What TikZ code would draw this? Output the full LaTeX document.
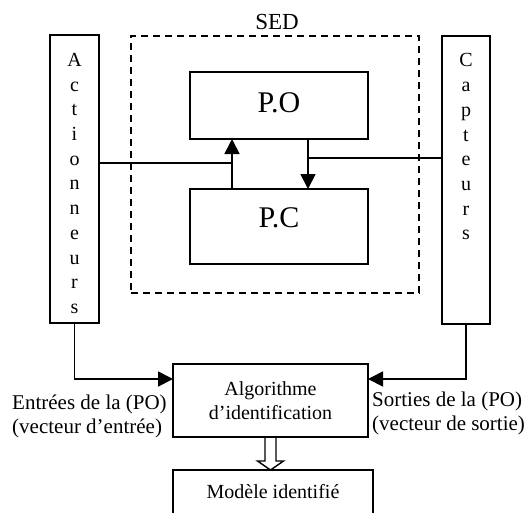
\documentclass[tikz,border=0pt]{standalone}
\usepackage{fontspec}
\setmainfont{Liberation Serif}
\usetikzlibrary{arrows.meta,calc}
\begin{document}
\begin{tikzpicture}[x=1pt,y=-1pt,
  box/.style={draw, line width=1.8pt, inner sep=0pt, outer sep=0pt},
  vtext/.style={font=\fontsize{20}{24.7}\selectfont, align=center, inner sep=0pt},
  body/.style={font=\fontsize{20}{24}\selectfont, align=center},
  big/.style={font=\fontsize{30}{36}\selectfont, inner sep=0pt},
  side/.style={font=\fontsize{21}{24}\selectfont, align=left, anchor=west, inner sep=0pt},
  wire/.style={line width=1.8pt},
  arr/.style={line width=1.8pt, -{Triangle[length=15pt,width=15pt]}},
  hollow/.style={line width=1.4pt, line join=miter}]
\useasboundingbox (0,0) rectangle (526,512);
\clip (0,0) rectangle (526,512);

% actuators and sensors columns
\node[box, minimum width=49, minimum height=288] (act) at (74.5,179) {};
\node[vtext, anchor=north] (acttxt) at ($(act.north)+(0,18)$) {A\\c\\t\\i\\o\\n\\n\\e\\u\\r\\s};
\node[box, minimum width=48, minimum height=288] (capt) at (466,180) {};
\node[vtext, anchor=north] (capttxt) at ($(capt.north)+(0,17.5)$) {C\\a\\p\\t\\e\\u\\r\\s};

% discrete event system
\node[draw, line width=1.5pt, dash pattern=on 7pt off 5pt, minimum width=288, minimum height=257, inner sep=0pt] (sed) at (275,164.5) {};
\node[font=\fontsize{23}{27}\selectfont, inner sep=0pt, anchor=base] (sedlbl) at (277,29) {SED};

\node[box, minimum width=178, minimum height=67] (po) at (279,105.5) {};
\node[big] (potxt) at (279,103) {P.O};
\node[box, minimum width=178, minimum height=75] (pc) at (279,226.5) {};
\node[big] (pctxt) at (279,218) {P.C};

% identification chain
\node[box, body, minimum width=195, minimum height=73] (alg) at (270.5,400.5) {Algorithme\\d’identification};
\node[box, body, minimum width=200, minimum height=44] (mod) at (273,492) {Modèle identifié};

\node[side] (inlbl) at (12,416) {Entrées de la (PO)\\(vecteur d’entrée)};
\node[side] (outlbl) at (372,413.5) {Sorties de la (PO)\\(vecteur de sortie)};

% connections inside the system
\coordinate (ja) at (232,163);
\draw[wire] (act.east |- ja) -- (ja);
\draw[arr] (pc.north -| ja) -- (po.south -| ja);
\coordinate (jc) at (308,158);
\draw[wire] (capt.west |- jc) -- (jc);
\draw[arr] (po.south -| jc) -- (pc.north -| jc);

% inputs and outputs to the algorithm
\draw[arr] (act.south) |- ($(alg.north west)+(0,15)$);
\draw[arr] (capt.south) |- ($(alg.north east)+(0,15)$);

% hollow arrow to the identified model
\coordinate (ht) at (alg.south |- mod.north);
\draw[hollow] ($(alg.south)+(-5.5,0)$) -- ($(ht)+(-5.5,-9)$) -- ($(ht)+(-13,-9)$) -- (ht)
  -- ($(ht)+(13,-9)$) -- ($(ht)+(5.5,-9)$) -- ($(alg.south)+(5.5,0)$);
\end{tikzpicture}
\end{document}
